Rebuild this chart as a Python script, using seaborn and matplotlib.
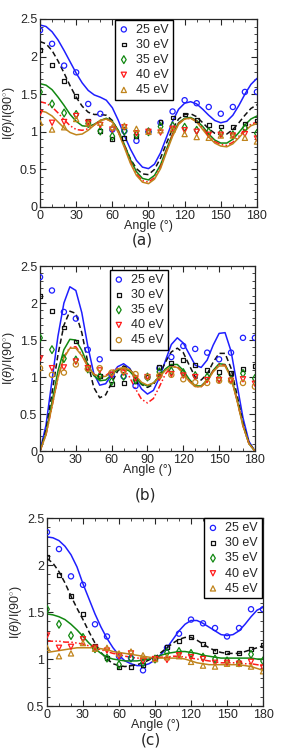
import numpy as np
import pandas as pd
import matplotlib
matplotlib.use("Agg")
import matplotlib.pyplot as plt
from matplotlib.ticker import MultipleLocator
import seaborn as sns

# measured angles (deg) and data points (same in every panel)
ANGLES = [0, 10, 20, 30, 40, 50, 60, 70, 80, 90, 100, 110, 120, 130, 140, 150, 160, 170, 180]
exp_25 = [2.35, 2.17, 1.88, 1.79, 1.37, 1.24, 1.03, 1.01, 0.88, 1.00, 1.12, 1.27, 1.42, 1.38, 1.33, 1.24, 1.33, 1.53, 1.53]
exp_30 = [2.09, 1.89, 1.67, 1.48, 1.14, 1.01, 0.91, 0.92, 0.94, 1.00, 1.13, 1.19, 1.23, 1.16, 1.09, 1.07, 1.06, 1.11, 1.15]
exp_35 = [1.53, 1.37, 1.25, 1.23, 1.11, 1.01, 0.94, 1.01, 0.96, 1.00, 1.07, 1.08, 1.06, 1.02, 1.00, 0.98, 0.96, 1.05, 0.98]
exp_40 = [1.25, 1.12, 1.13, 1.21, 1.12, 1.09, 1.03, 1.06, 0.98, 1.00, 0.99, 1.04, 1.02, 1.00, 0.96, 0.96, 0.95, 0.97, 0.91]
exp_45 = [1.12, 1.03, 1.06, 1.17, 1.11, 1.12, 1.06, 1.08, 1.04, 1.00, 1.02, 1.03, 0.97, 0.93, 0.92, 0.95, 0.95, 0.92, 0.87]

# theory curves, read every 5 deg
CURVE_ANGLES = list(range(0, 181, 5))

a_25 = [2.42, 2.40, 2.33, 2.22, 2.08, 1.93, 1.78, 1.65, 1.55, 1.49, 1.46, 1.42, 1.32, 1.15, 0.95, 0.77, 0.62, 0.53, 0.51,
        0.57, 0.72, 0.93, 1.14, 1.30, 1.38, 1.40, 1.37, 1.30, 1.22, 1.15, 1.12, 1.14, 1.22, 1.35, 1.50, 1.63, 1.71]
a_30 = [2.20, 2.17, 2.08, 1.94, 1.78, 1.61, 1.46, 1.34, 1.26, 1.23, 1.23, 1.22, 1.15, 1.00, 0.82, 0.64, 0.51, 0.44, 0.43,
        0.50, 0.65, 0.85, 1.04, 1.17, 1.23, 1.24, 1.20, 1.12, 1.04, 0.98, 0.96, 0.97, 1.03, 1.12, 1.22, 1.31, 1.36]
a_35 = [1.64, 1.62, 1.56, 1.46, 1.35, 1.23, 1.14, 1.08, 1.07, 1.10, 1.15, 1.18, 1.14, 1.02, 0.83, 0.63, 0.47, 0.38, 0.36,
        0.42, 0.56, 0.77, 0.97, 1.12, 1.18, 1.19, 1.15, 1.07, 0.97, 0.89, 0.85, 0.85, 0.90, 0.99, 1.09, 1.17, 1.21]
a_40 = [1.40, 1.38, 1.33, 1.25, 1.16, 1.08, 1.03, 1.02, 1.04, 1.09, 1.15, 1.17, 1.13, 1.00, 0.81, 0.60, 0.44, 0.35, 0.33,
        0.39, 0.53, 0.75, 0.96, 1.11, 1.17, 1.18, 1.14, 1.05, 0.95, 0.87, 0.83, 0.82, 0.86, 0.94, 1.03, 1.10, 1.13]
a_45 = [1.28, 1.26, 1.21, 1.13, 1.05, 0.99, 0.96, 0.97, 1.02, 1.09, 1.15, 1.17, 1.13, 0.99, 0.79, 0.58, 0.42, 0.33, 0.31,
        0.37, 0.51, 0.73, 0.94, 1.10, 1.17, 1.18, 1.13, 1.03, 0.93, 0.85, 0.81, 0.80, 0.84, 0.92, 1.01, 1.08, 1.11]

b_25 = [0.00, 0.35, 0.95, 1.55, 2.00, 2.22, 2.17, 1.87, 1.42, 1.05, 0.89, 0.91, 1.03, 1.14, 1.18, 1.12, 0.98, 0.84, 0.77,
        0.82, 0.99, 1.22, 1.44, 1.53, 1.46, 1.31, 1.16, 1.13, 1.23, 1.43, 1.59, 1.60, 1.35, 0.90, 0.45, 0.13, 0.00]
b_30 = [0.00, 0.28, 0.78, 1.30, 1.70, 1.89, 1.86, 1.60, 1.20, 0.86, 0.72, 0.76, 0.92, 1.08, 1.15, 1.11, 1.00, 0.90, 0.86,
        0.90, 1.03, 1.20, 1.34, 1.39, 1.33, 1.16, 1.00, 0.96, 1.04, 1.20, 1.32, 1.32, 1.12, 0.76, 0.38, 0.11, 0.00]
b_35 = [0.00, 0.24, 0.66, 1.08, 1.37, 1.51, 1.50, 1.36, 1.17, 1.02, 0.95, 0.96, 1.03, 1.10, 1.12, 1.08, 0.99, 0.91, 0.88,
        0.92, 1.01, 1.11, 1.17, 1.17, 1.09, 0.97, 0.88, 0.88, 0.96, 1.09, 1.18, 1.17, 1.01, 0.70, 0.35, 0.10, 0.00]
b_40 = [0.00, 0.22, 0.60, 0.99, 1.27, 1.40, 1.41, 1.30, 1.15, 1.04, 1.00, 1.02, 1.08, 1.12, 1.10, 1.00, 0.84, 0.70, 0.65,
        0.71, 0.87, 1.04, 1.14, 1.14, 1.06, 0.95, 0.87, 0.87, 0.95, 1.08, 1.17, 1.16, 1.00, 0.69, 0.34, 0.10, 0.00]
b_45 = [0.00, 0.22, 0.60, 0.99, 1.26, 1.39, 1.39, 1.29, 1.14, 1.04, 1.00, 1.01, 1.06, 1.11, 1.13, 1.10, 1.02, 0.93, 0.89,
        0.92, 1.00, 1.09, 1.14, 1.13, 1.05, 0.94, 0.87, 0.87, 0.94, 1.07, 1.15, 1.15, 0.99, 0.68, 0.34, 0.10, 0.00]

c_25 = [2.30, 2.29, 2.26, 2.20, 2.11, 1.98, 1.80, 1.64, 1.48, 1.34, 1.22, 1.12, 1.04, 0.98, 0.95, 0.93, 0.93, 0.95, 0.99,
        1.05, 1.12, 1.21, 1.30, 1.37, 1.41, 1.41, 1.38, 1.34, 1.30, 1.26, 1.25, 1.26, 1.30, 1.37, 1.45, 1.52, 1.55]
c_30 = [2.07, 2.02, 1.93, 1.81, 1.67, 1.54, 1.42, 1.29, 1.17, 1.07, 1.00, 0.95, 0.93, 0.92, 0.93, 0.94, 0.96, 0.99, 1.02,
        1.07, 1.12, 1.17, 1.21, 1.23, 1.23, 1.20, 1.16, 1.12, 1.09, 1.07, 1.06, 1.06, 1.06, 1.08, 1.10, 1.12, 1.14]
c_35 = [1.48, 1.47, 1.45, 1.42, 1.37, 1.31, 1.24, 1.17, 1.11, 1.06, 1.02, 1.00, 0.99, 0.98, 0.98, 0.98, 0.99, 1.00, 1.02,
        1.04, 1.06, 1.07, 1.08, 1.08, 1.07, 1.06, 1.04, 1.03, 1.02, 1.01, 1.01, 1.01, 1.01, 1.01, 1.01, 1.00, 1.00]
c_40 = [1.19, 1.19, 1.19, 1.18, 1.18, 1.17, 1.16, 1.14, 1.12, 1.10, 1.08, 1.06, 1.05, 1.03, 1.02, 1.01, 1.01, 1.01, 1.01,
        1.02, 1.02, 1.03, 1.03, 1.02, 1.01, 1.00, 0.99, 0.98, 0.97, 0.96, 0.96, 0.96, 0.96, 0.95, 0.95, 0.94, 0.93]
c_45 = [1.07, 1.08, 1.09, 1.10, 1.11, 1.12, 1.12, 1.12, 1.12, 1.11, 1.10, 1.08, 1.07, 1.06, 1.05, 1.04, 1.03, 1.02, 1.01,
        1.01, 1.01, 1.01, 1.01, 1.00, 0.98, 0.96, 0.95, 0.94, 0.94, 0.94, 0.94, 0.94, 0.94, 0.93, 0.92, 0.90, 0.88]

LABELS = ["25 eV", "30 eV", "35 eV", "40 eV", "45 eV"]
COLORS = ["#1f1fff", "#111111", "#118811", "#ff1a1a", "#c0841c"]
LINESTYLES = ["-", (0, (3.5, 2)), "-", (0, (4, 1.5, 1, 1.5, 1, 1.5)), "-"]
MARKERS = ["o", "s", "d", "v", "^"]
MARKER_SIZES = {"o": 14, "s": 8, "d": 16, "v": 14, "^": 14}
EXP = [exp_25, exp_30, exp_35, exp_40, exp_45]

sns.set_style("ticks")
plt.rcParams['font.family'] = ['Liberation Sans', 'DejaVu Sans']
plt.rcParams['mathtext.fontset'] = 'custom'
plt.rcParams['mathtext.rm'] = 'Liberation Sans'
plt.rcParams['mathtext.it'] = 'Liberation Sans:italic'

fig = plt.figure(figsize=(2.90, 7.48), dpi=100)

panels = [
    dict(rect=[0.138, 0.7233, 0.748, 0.2513], curves=[a_25, a_30, a_35, a_40, a_45], ylim=(0, 2.5),
         leg_anchor=(0.346, 0.995), leg_loc="upper left", markers=MARKERS, tag="(a)", tag_y=0.679, tag_x=0.49),
    dict(rect=[0.138, 0.397, 0.741, 0.2473], curves=[b_25, b_30, b_35, b_40, b_45], ylim=(0, 2.5),
         leg_anchor=(0.326, 0.978), leg_loc="upper left", markers=["o", "s", "d", "v", "o"], tag="(b)", tag_y=0.338, tag_x=0.50),
    dict(rect=[0.162, 0.0561, 0.745, 0.2513], curves=[c_25, c_30, c_35, c_40, c_45], ylim=(0.5, 2.5),
         leg_anchor=(0.995, 0.998), leg_loc="upper right", markers=MARKERS, tag="(c)", tag_y=0.011, tag_x=0.52),
]

for p in panels:
    ax = fig.add_axes(p["rect"])
    for i in range(5):
        sns.lineplot(x=CURVE_ANGLES, y=p["curves"][i], color=COLORS[i], linestyle=LINESTYLES[i],
                     linewidth=1.1, ax=ax, legend=False)
    for i in range(5):
        m = p["markers"][i]
        sns.scatterplot(x=ANGLES, y=EXP[i], marker=m, s=MARKER_SIZES[m], facecolor="none",
                        edgecolor=COLORS[i], linewidth=0.9, label=LABELS[i], ax=ax, legend=False, zorder=3)
    ax.set_xlim(0, 180)
    ax.set_ylim(*p["ylim"])
    ax.xaxis.set_major_locator(MultipleLocator(30))
    ax.xaxis.set_minor_locator(MultipleLocator(10))
    ax.yaxis.set_major_locator(MultipleLocator(0.5))
    ax.yaxis.set_minor_locator(MultipleLocator(0.1))
    ax.yaxis.set_major_formatter(plt.FuncFormatter(lambda v, _: f"{v:g}"))
    ax.tick_params(which="both", direction="in", top=True, right=True, labelsize=9, pad=2)
    ax.tick_params(which="major", length=4, width=0.8)
    ax.tick_params(which="minor", length=2, width=0.6)
    for s in ax.spines.values():
        s.set_linewidth(0.9)
    ax.set_xlabel("Angle (°)", fontsize=9, labelpad=-1)
    ax.set_ylabel(r"I($\theta$)/I(90$^{\circ}$)", fontsize=9, labelpad=2)
    leg = ax.legend(loc=p["leg_loc"], bbox_to_anchor=p["leg_anchor"], borderaxespad=0, fontsize=9,
                    frameon=True, fancybox=False, edgecolor="black", framealpha=1,
                    handlelength=0.8, handletextpad=0.6, labelspacing=0.25, borderpad=0.3)
    leg.get_frame().set_linewidth(1.0)
    fig.text(p["tag_x"], p["tag_y"], p["tag"], ha="center", va="center", fontsize=11, family="DejaVu Sans")

fig.savefig("out.png", dpi=100)
